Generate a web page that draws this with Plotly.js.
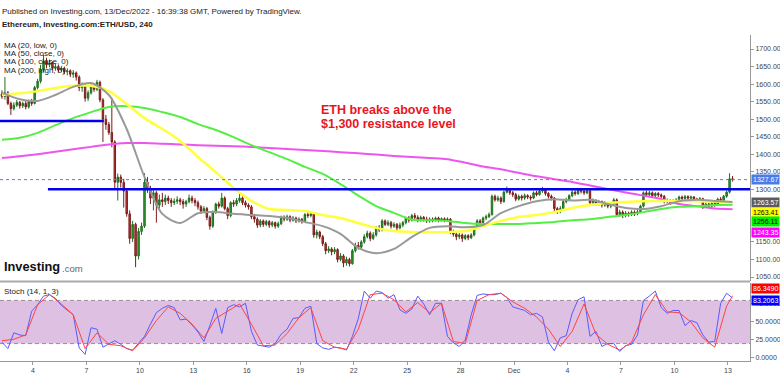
<!DOCTYPE html>
<html><head><meta charset="utf-8">
<script src="https://cdn.plot.ly/plotly-3.0.1.min.js"></script>
<style>html,body{margin:0;padding:0;background:#fff}#chart{width:780px;height:376px}</style>
</head><body><div id="chart"></div>
<script>
// ETH/USD 4h candles (close / high / low), open = previous close
const firstOpen = 1572;
const startDay = 2.26;            // day-of-month scale, Nov d = d, Dec d = 30 + d
const candleStepDays = 1 / 6;     // 240 minutes
const closes = [1565,1575,1545,1530,1540,1548,1538,1545,1535,1550,
1545,1590,1608,1640,1665,1655,1660,1645,1650,1640,
1645,1635,1638,1628,1632,1620,1590,1598,1560,1575,
1595,1585,1605,1555,1500,1485,1462,1435,1320,1335,
1320,1295,1230,1160,1200,1110,1180,1195,1320,1300,
1275,1290,1255,1270,1265,1275,1268,1262,1266,1270,
1265,1258,1265,1275,1268,1262,1250,1238,1245,1220,
1195,1235,1258,1252,1275,1245,1225,1262,1258,1268,
1275,1262,1255,1250,1222,1215,1198,1210,1200,1208,
1198,1205,1195,1202,1220,1215,1222,1212,1218,1210,
1215,1208,1228,1225,1230,1170,1178,1165,1145,1125,
1130,1122,1128,1100,1110,1090,1100,1088,1125,1140,
1135,1150,1165,1175,1160,1170,1190,1185,1210,1200,
1205,1195,1200,1190,1198,1205,1218,1212,1225,1220,
1212,1220,1215,1210,1215,1212,1218,1212,1216,1212,
1215,1178,1172,1165,1170,1160,1168,1162,1170,1192,
1210,1205,1218,1222,1228,1280,1270,1275,1265,1292,
1298,1290,1285,1272,1280,1275,1282,1278,1275,1290,
1285,1295,1300,1288,1280,1275,1245,1238,1245,1265,
1270,1282,1292,1288,1298,1295,1290,1296,1262,1268,
1260,1265,1255,1260,1252,1258,1270,1228,1235,1225,
1232,1228,1235,1230,1236,1252,1290,1285,1290,1282,
1288,1284,1280,1265,1268,1262,1266,1270,1278,1274,
1279,1275,1278,1272,1270,1273,1250,1258,1252,1260,
1255,1272,1268,1280,1292,1330,1327.67];
const highs = [1582,1620,1580,1550,1548,1555,1552,1550,1552,1556,
1558,1595,1615,1655,1683,1675,1670,1665,1658,1655,
1652,1650,1645,1642,1640,1636,1625,1605,1602,1582,
1600,1602,1612,1610,1560,1512,1492,1560,1440,1345,
1342,1330,1300,1240,1210,1205,1190,1205,1346,1335,
1310,1300,1295,1285,1290,1285,1282,1275,1274,1280,
1276,1272,1270,1285,1282,1275,1268,1255,1252,1250,
1225,1240,1262,1265,1290,1280,1250,1266,1270,1275,
1290,1280,1268,1260,1255,1230,1220,1215,1214,1213,
1212,1210,1208,1208,1225,1226,1228,1226,1224,1222,
1220,1218,1232,1235,1238,1232,1185,1182,1170,1150,
1138,1135,1135,1132,1118,1115,1108,1105,1130,1148,
1150,1155,1172,1182,1180,1178,1195,1198,1215,1214,
1212,1210,1206,1204,1205,1210,1222,1224,1230,1232,
1226,1225,1224,1222,1220,1220,1222,1222,1220,1220,
1220,1218,1185,1178,1175,1174,1172,1172,1175,1196,
1215,1215,1222,1228,1234,1285,1285,1282,1280,1296,
1308,1302,1295,1290,1285,1285,1288,1286,1283,1294,
1296,1300,1307,1303,1292,1285,1278,1250,1252,1270,
1276,1286,1298,1297,1302,1304,1300,1302,1300,1274,
1272,1270,1268,1266,1264,1262,1275,1274,1242,1240,
1238,1236,1240,1240,1242,1256,1294,1296,1296,1294,
1292,1292,1288,1284,1274,1272,1272,1275,1282,1282,
1284,1283,1282,1281,1276,1278,1276,1262,1262,1264,
1264,1276,1278,1284,1296,1346,1338];
const lows = [1558,1556,1540,1512,1525,1535,1530,1532,1528,1530,
1538,1542,1585,1602,1635,1645,1648,1640,1638,1632,
1635,1628,1625,1620,1618,1610,1580,1578,1550,1552,
1570,1578,1580,1548,1435,1470,1455,1420,1300,1268,
1305,1248,1222,1145,1150,1078,1100,1170,1190,1290,
1258,1240,1205,1245,1250,1255,1258,1250,1255,1258,
1255,1245,1250,1260,1260,1252,1242,1230,1232,1212,
1185,1190,1230,1245,1248,1240,1215,1220,1250,1252,
1262,1255,1248,1242,1215,1205,1190,1192,1193,1195,
1190,1192,1188,1190,1198,1208,1210,1206,1208,1204,
1205,1202,1205,1218,1220,1162,1160,1158,1138,1115,
1118,1112,1115,1092,1095,1078,1082,1080,1085,1120,
1128,1130,1145,1160,1152,1155,1165,1178,1180,1195,
1195,1188,1190,1184,1186,1192,1200,1205,1208,1214,
1206,1208,1208,1204,1205,1206,1208,1206,1208,1206,
1208,1172,1165,1155,1158,1150,1155,1155,1158,1166,
1188,1198,1200,1212,1218,1225,1265,1265,1258,1262,
1288,1284,1278,1266,1268,1268,1270,1272,1268,1272,
1280,1282,1290,1282,1274,1268,1238,1230,1232,1240,
1260,1266,1278,1282,1284,1288,1284,1286,1256,1256,
1254,1254,1248,1250,1246,1246,1252,1222,1222,1218,
1220,1222,1224,1224,1226,1232,1248,1280,1280,1276,
1278,1278,1274,1260,1260,1256,1258,1262,1266,1268,
1270,1270,1270,1266,1264,1265,1244,1246,1246,1248,
1250,1252,1262,1265,1276,1288,1322];

// Moving averages, read once per day (every 6th candle)
const ma20 = [1575,1557,1552,1569,1592,1603,1569,1472,1335,1230,
1204,1232,1235,1230,1227,1224,1218,1207,1195,1173,
1133,1118,1130,1164,1190,1195,1192,1198,1232,1252,
1266,1272,1268,1270,1258,1247,1244,1252,1266,1270,
1267,1263.57];
const ma50 = [1569,1574,1580,1589,1595,1595,1580,1543,1503,1472,
1438,1392,1349,1304,1267,1244,1241,1238,1227,1218,
1204,1190,1181,1178,1178,1178,1181,1195,1210,1221,
1227,1235,1247,1255,1261,1264,1266,1267,1267,1266,
1265,1263.41];
const ma100 = [1441,1447,1461,1483,1503,1520,1535,1537,1532,1520,
1506,1486,1469,1449,1426,1406,1386,1364,1344,1315,
1282,1252,1233,1213,1212,1210,1204,1201,1201,1201,
1204,1207,1212,1215,1221,1227,1235,1244,1250,1252,
1255,1256.11];
const ma200 = [1389,1394,1400,1407,1414,1421,1428,1432,1432,1430,
1428,1426,1424,1423,1421,1418,1415,1412,1409,1406,
1403,1399,1395,1392,1389,1386,1376,1365,1357,1347,
1337,1329,1321,1311,1301,1291,1282,1272,1258,1252,
1245,1243.35];

// Stochastic (14,1,3): %K every 2nd candle, %D every 4th candle (+ last)
const stochK = [22,13,35,32,31,65,74,86,88,83,
73,66,60,14,5,42,40,15,20,24,
19,13,11,20,30,47,63,69,73,70,
53,54,46,36,23,45,69,34,70,74,
71,76,37,18,16,15,20,33,40,55,
56,69,72,20,14,12,15,14,11,30,
55,93,83,93,91,83,88,67,62,68,
86,75,60,76,76,30,21,16,25,60,
87,89,88,88,90,84,71,69,66,60,
62,57,22,10,28,31,62,81,85,30,
37,16,20,20,9,17,19,32,80,86,
93,70,62,66,66,45,52,49,32,22,
23,76,90,83.2063];
const stochD = [24,26,32,74,88,75,60,13,35,19,
17,10,28,52,71,62,47,28,55,65,
75,47,17,18,34,56,70,24,15,12,
40,88,90,81,64,77,63,76,23,20,
80,88,90,78,69,57,40,16,37,75,
33,19,11,22,60,88,64,63,50,28,
15,72,86.3490];

const tickDays = [4,7,10,13,16,19,22,25,28,31,34,37,40,43];
const tickLabels = ['4','7','10','13','16','19','22','25','28','Dec','4','7','10','13'];
const priceTicks = [1050,1100,1150,1300,1350,1400,1450,1500,1550,1600,1650,1700];
const stochTicks = [0,25,50,75];
const supportLevel = 1495, resistanceLevel = 1300, lastPrice = 1327.67;
const stochBand = [20, 80];

const times = closes.map((_, i) => startDay + i * candleStepDays);
const opens = closes.map((c, i) => i === 0 ? firstOpen : closes[i - 1]);
const maX = times.filter((_, i) => i % 6 === 0);
const kX = times.filter((_, i) => i % 2 === 0);
const dIdx = []; for (let i = 0; i < times.length; i += 4) dIdx.push(i); dIdx.push(times.length - 1);
const dX = dIdx.map(i => times[i]);

const FONT = 'Liberation Sans, Arial, sans-serif';
const xRange = [2.15, 44.24];

const maLine = (y, color, w) => ({type:'scatter', mode:'lines', x:maX, y:y, xaxis:'x', yaxis:'y',
  line:{color:color, width:w, shape:'spline', smoothing:0.8}, hoverinfo:'skip'});

const traces = [
  {type:'candlestick', x:times, open:opens, high:highs, low:lows, close:closes, xaxis:'x', yaxis:'y',
   increasing:{line:{color:'#1f6f1f', width:1}, fillcolor:'#2e9e2e'},
   decreasing:{line:{color:'#7a1c1c', width:1}, fillcolor:'#c0392b'},
   whiskerwidth:0, hoverinfo:'skip'},
  maLine(ma200, '#ee55ee', 2),
  maLine(ma100, '#55ee44', 2),
  maLine(ma50, '#ffff3c', 2.5),
  maLine(ma20, '#999999', 2),
  {type:'scatter', mode:'lines', x:kX, y:stochK, xaxis:'x', yaxis:'y2', line:{color:'#5a5aff', width:1}, hoverinfo:'skip'},
  {type:'scatter', mode:'lines', x:dX, y:stochD, xaxis:'x', yaxis:'y2', line:{color:'#ff4444', width:1}, hoverinfo:'skip'}
];

const px2paper = (py) => (361 - py) / 326;
const txt = (text, xp, yp, size, color, extra) => Object.assign({xref:'paper', yref:'paper', x:xp, y:yp,
  xanchor:'left', yanchor:'middle', text:text, showarrow:false, font:{family:FONT, size:size, color:color}}, extra || {});
const tag = (text, y, yref, bg, fg, yshift) => ({xref:'paper', x:1, xanchor:'left', xshift:1, yref:yref, y:y,
  yanchor:'middle', yshift:yshift, text:text, showarrow:false, bgcolor:bg, borderpad:1,
  font:{family:FONT, size:7, color:fg}});

const annotations = [
  txt('Published on Investing.com, 13/Dec/2022 - 16:39:38 GMT, Powered by TradingView.', 0, px2paper(11.5), 8, '#222'),
  txt('<b>Ethereum, Investing.com:ETH/USD, 240</b>', 0, px2paper(25), 8, '#222'),
  txt('MA (20, low, 0)', 0.003, px2paper(45), 8, '#222'),
  txt('MA (50, close, 0)', 0.003, px2paper(53.3), 8, '#222'),
  txt('MA (100, close, 0)', 0.003, px2paper(61.6), 8, '#222'),
  txt('MA (200, high, 0)', 0.003, px2paper(70), 8, '#222'),
  txt('<b>ETH breaks above the</b>', 319/750, px2paper(110), 12.5, '#e8161e'),
  txt('<b>$1,300 resistance level</b>', 319/750, px2paper(124.5), 12.5, '#e8161e'),
  txt('<b>Investing</b>', 0.003, px2paper(266), 12.8, '#111'),
  txt('.com', 59.5/750, px2paper(268), 9.5, '#666'),
  txt('Stoch (14, 1, 3)', 0.002, px2paper(291), 8, '#222'),
  tag('1327.67', lastPrice, 'y', '#4a7be6', '#fff', 0),
  tag('1263.57', ma20[ma20.length-1], 'y', '#5c5c5c', '#fff', 0),
  tag('1263.41', ma50[ma50.length-1], 'y', '#ffff00', '#000', -10),
  tag('1256.11', ma100[ma100.length-1], 'y', '#00ee00', '#000', -17),
  tag('1243.35', ma200[ma200.length-1], 'y', '#ff00ff', '#fff', -23),
  tag('86.3490', stochD[stochD.length-1], 'y2', '#ff0000', '#fff', 7),
  tag('83.2063', stochK[stochK.length-1], 'y2', '#0000ff', '#fff', -2)
];

const shapes = [
  {type:'rect', xref:'paper', x0:0, x1:1, yref:'y2', y0:stochBand[0], y1:stochBand[1], fillcolor:'rgb(222,193,226)', line:{width:0}, layer:'below'},
  {type:'line', xref:'paper', x0:0, x1:1, yref:'y2', y0:stochBand[0], y1:stochBand[0], line:{color:'#9a8a9a', width:1, dash:'4px,3px'}, layer:'below'},
  {type:'line', xref:'paper', x0:0, x1:1, yref:'y2', y0:stochBand[1], y1:stochBand[1], line:{color:'#9a8a9a', width:1, dash:'4px,3px'}, layer:'below'},
  {type:'line', xref:'paper', x0:0, x1:1, yref:'paper', y0:px2paper(281.5), y1:px2paper(281.5), line:{color:'#aaaaaa', width:2}},
  {type:'line', xref:'paper', x0:0, x1:1, yref:'y', y0:lastPrice, y1:lastPrice, line:{color:'#5a78ee', width:1, dash:'dot'}},
  {type:'line', xref:'x', x0:xRange[0], x1:7.98, yref:'y', y0:supportLevel, y1:supportLevel, line:{color:'#0000ee', width:2.5}},
  {type:'line', xref:'x', x0:4.84, x1:xRange[1], yref:'y', y0:resistanceLevel, y1:resistanceLevel, line:{color:'#0000ee', width:2.5}}
];

const axisCommon = {showgrid:false, zeroline:false, showline:true, linecolor:'#999', linewidth:1,
  ticks:'outside', ticklen:3, tickcolor:'#999', tickfont:{family:FONT, size:7, color:'#444'}, fixedrange:true};

const layout = {
  width:780, height:376, margin:{l:0, r:30, t:35, b:15},
  paper_bgcolor:'#ffffff', plot_bgcolor:'#ffffff', showlegend:false, hovermode:false,
  font:{family:FONT, size:8, color:'#333'},
  xaxis:Object.assign({}, axisCommon, {range:xRange, anchor:'y2', tickmode:'array', tickvals:tickDays, ticktext:tickLabels,
    rangeslider:{visible:false}, showline:true}),
  yaxis:Object.assign({}, axisCommon, {domain:[0.2454, 1], range:[1038.6, 1740], side:'right', anchor:'x',
    tickmode:'array', tickvals:priceTicks, ticktext:priceTicks.map(v => v.toFixed(2))}),
  yaxis2:Object.assign({}, axisCommon, {domain:[0, 0.2393], range:[-4.2, 104.2], side:'right', anchor:'x',
    tickmode:'array', tickvals:stochTicks, ticktext:stochTicks.map(v => v.toFixed(4))}),
  shapes:shapes, annotations:annotations
};

Plotly.newPlot('chart', traces, layout, {staticPlot:true, displayModeBar:false});
</script>
</body></html>
